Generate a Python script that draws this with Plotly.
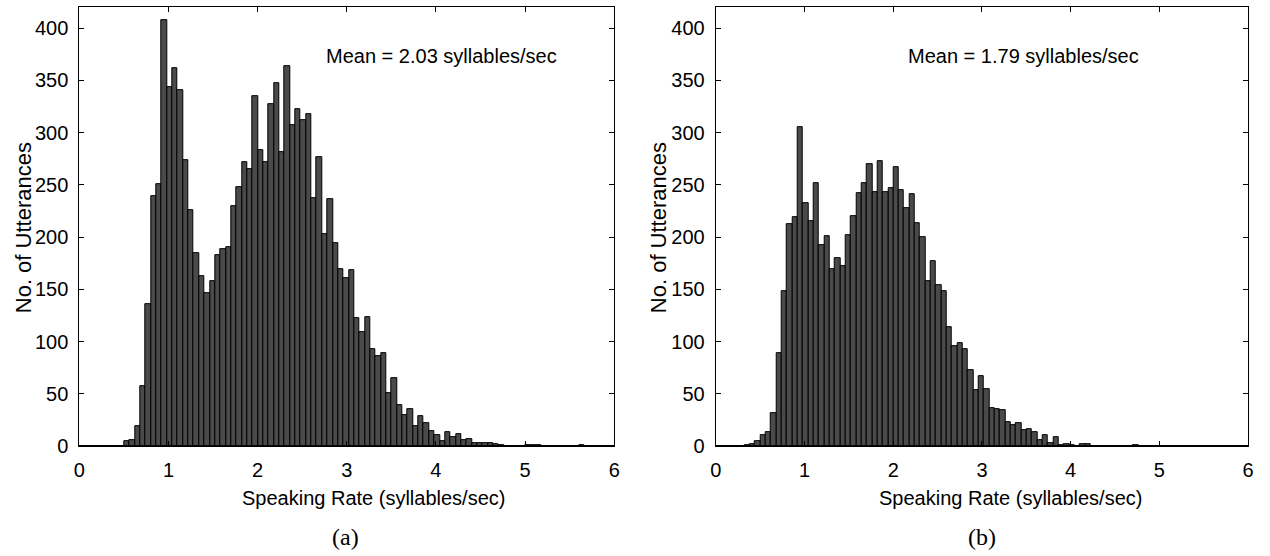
import plotly.graph_objects as go

# Histogram binning: 100 bins of 0.06 syllables/sec
bin_start = 0.024
bin_width = 0.06
n_bins = 100
bin_centers = [round(bin_start + bin_width * (i + 0.5), 4) for i in range(n_bins)]

# (a) counts per bin
counts_a = [
    0, 0, 0, 0, 0, 0, 0, 0, 5, 6,
    19, 57, 136, 239, 251, 408, 343, 362, 341, 274,
    226, 185, 163, 146, 158, 183, 188, 190, 230, 248,
    272, 265, 335, 283, 272, 327, 347, 281, 364, 307,
    322, 312, 318, 237, 276, 203, 236, 194, 169, 161,
    168, 122, 109, 123, 93, 86, 89, 51, 65, 39,
    30, 35, 19, 29, 22, 14, 10, 5, 13, 8,
    11, 6, 7, 3, 3, 3, 3, 2, 1, 0,
    0, 0, 0, 1, 1, 1, 0, 0, 0, 0,
    0, 0, 0, 1, 0, 0, 0, 0, 0, 0,
]

# (b) counts per bin
counts_b = [
    0, 0, 0, 0, 0, 1, 2, 5, 10, 13,
    31, 89, 148, 212, 219, 305, 232, 215, 252, 192,
    201, 169, 180, 172, 202, 220, 242, 252, 270, 243,
    273, 243, 247, 267, 245, 228, 241, 213, 200, 158,
    177, 154, 148, 114, 96, 98, 93, 73, 53, 67,
    54, 36, 35, 34, 23, 20, 22, 15, 16, 13,
    6, 10, 3, 8, 1, 2, 1, 0, 2, 2,
    0, 0, 0, 0, 0, 0, 0, 0, 1, 0,
    0, 0, 0, 0, 0, 0, 0, 0, 0, 0,
    0, 0, 0, 0, 0, 0, 0, 0, 0, 0,
]

mean_a = 2.03
mean_b = 1.79

x_ticks = [0, 1, 2, 3, 4, 5, 6]
y_ticks = [0, 50, 100, 150, 200, 250, 300, 350, 400]

x_title = "Speaking Rate (syllables/sec)"
y_title = "No. of Utterances"

FONT = "Arial"
SERIF = "Liberation Serif"
BAR_FILL = "rgb(74,74,74)"
TICK_SIZE = 20

W, H = 1270, 556
left_dom = [74 / W, 614 / W]
right_dom = [716.5 / W, 1254 / W]
y_dom = [1 - 455 / H, 1 - 7.3 / H]

fig = go.Figure()
for counts, xa, ya in [(counts_a, "x", "y"), (counts_b, "x2", "y2")]:
    fig.add_trace(go.Bar(
        x=bin_centers, y=counts, width=bin_width,
        marker=dict(color=BAR_FILL, line=dict(color="black", width=1)),
        xaxis=xa, yaxis=ya, showlegend=False,
    ))

fig.update_layout(
    width=W, height=H,
    margin=dict(l=0, r=0, t=0, b=0),
    paper_bgcolor="white", plot_bgcolor="white",
    font=dict(family=FONT, size=TICK_SIZE, color="black"),
    bargap=0,
    xaxis=dict(domain=left_dom, anchor="y"),
    yaxis=dict(domain=y_dom, anchor="x"),
    xaxis2=dict(domain=right_dom, anchor="y2"),
    yaxis2=dict(domain=y_dom, anchor="x2"),
)

frame = dict(showline=True, linecolor="black", linewidth=1, mirror="allticks",
             ticks="inside", ticklen=5, tickwidth=1, tickcolor="black", showgrid=False,
             tickfont=dict(family=FONT, size=TICK_SIZE, color="black"))
fig.update_xaxes(range=[0, 6], tickmode="array", tickvals=x_ticks,
                 ticktext=[str(v) for v in x_ticks], zeroline=False,
                 ticklabelstandoff=6, **frame)
fig.update_yaxes(range=[0, 420], tickmode="array", tickvals=y_ticks,
                 ticktext=[str(v) for v in y_ticks],
                 zeroline=True, zerolinecolor="black", zerolinewidth=2,
                 ticklabelstandoff=6, **frame)

# Mean annotations
fig.add_annotation(x=2.74, y=373, xref="x", yref="y", xanchor="left", yanchor="middle",
                   text=f"Mean = {mean_a:.2f} syllables/sec", showarrow=False,
                   font=dict(family=FONT, size=20, color="black"))
fig.add_annotation(x=2.14, y=373, xref="x2", yref="y2", xanchor="left", yanchor="middle",
                   text=f"Mean = {mean_b:.2f} syllables/sec", showarrow=False,
                   font=dict(family=FONT, size=20, color="black"))

# Axis titles placed in page pixels (converted to paper fractions)
for xt, yt_x in [(371.5, 18), (1014, 659)]:
    fig.add_annotation(x=xt / W, y=1 - 508 / H, xref="paper", yref="paper",
                       xanchor="center", yanchor="middle", text=x_title, showarrow=False,
                       font=dict(family=FONT, size=20, color="black"))
    fig.add_annotation(x=yt_x / W, y=1 - 232 / H, xref="paper", yref="paper",
                       xanchor="center", yanchor="middle", text=y_title, showarrow=False,
                       textangle=-90, font=dict(family=FONT, size=22, color="black"))

# Sub-figure captions
for label, xc in [("(a)", 343), ("(b)", 985)]:
    fig.add_annotation(x=xc / W, y=1 - 548 / H, xref="paper", yref="paper",
                       xanchor="center", yanchor="middle", text=label, showarrow=False,
                       font=dict(family=SERIF, size=24, color="black"))

fig.write_html("out.html")
